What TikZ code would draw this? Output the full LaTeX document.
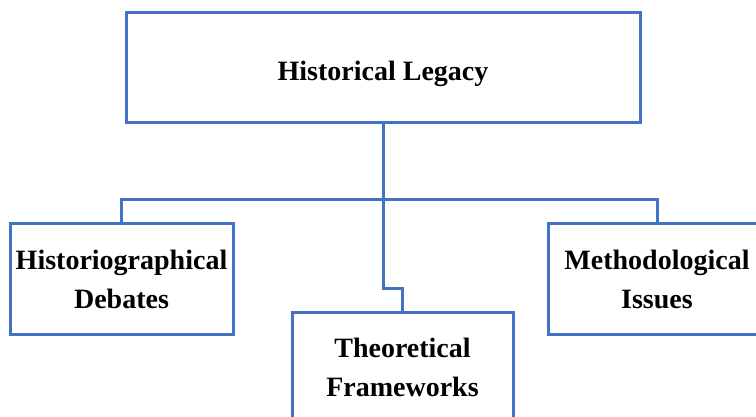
\documentclass[tikz,border=0pt]{standalone}
\usepackage{fontspec}
\setmainfont{Liberation Serif}
\definecolor{boxblue}{HTML}{4472C4}
\tikzset{
  box/.style={draw=boxblue, line width=3pt, fill=white, align=center, inner sep=0pt,
    font=\bfseries\fontsize{28}{39}\selectfont, text=black},
  link/.style={draw=boxblue, line width=3pt, line join=miter}
}
\begin{document}
\begin{tikzpicture}[x=1pt,y=-1pt]
\useasboundingbox (0,0) rectangle (756,417);
\clip (0,0) rectangle (756,417);
\fill[white] (0,0) rectangle (756,417);
\coordinate (j) at (383,200);
\coordinate (k) at (383,288);
\node[box, minimum width=514pt, minimum height=110pt] (top) at (383,68) {\raisebox{-13pt}[0pt][0pt]{Historical Legacy}};
\node[box, minimum width=223pt, minimum height=110pt] (left) at (121.5,279) {Historiographical\\Debates};
\node[box, minimum width=218pt, minimum height=110pt] (right) at (657,279) {Methodological\\Issues};
\node[box, minimum width=221pt, minimum height=110pt] (bottom) at (402.5,367) {Theoretical\\Frameworks};
\draw[link] (top.south) -- (j);
\draw[link] (left.north) |- (j) -| (right.north);
\draw[link] (j) -- (k) -| (bottom.north);
\end{tikzpicture}
\end{document}
